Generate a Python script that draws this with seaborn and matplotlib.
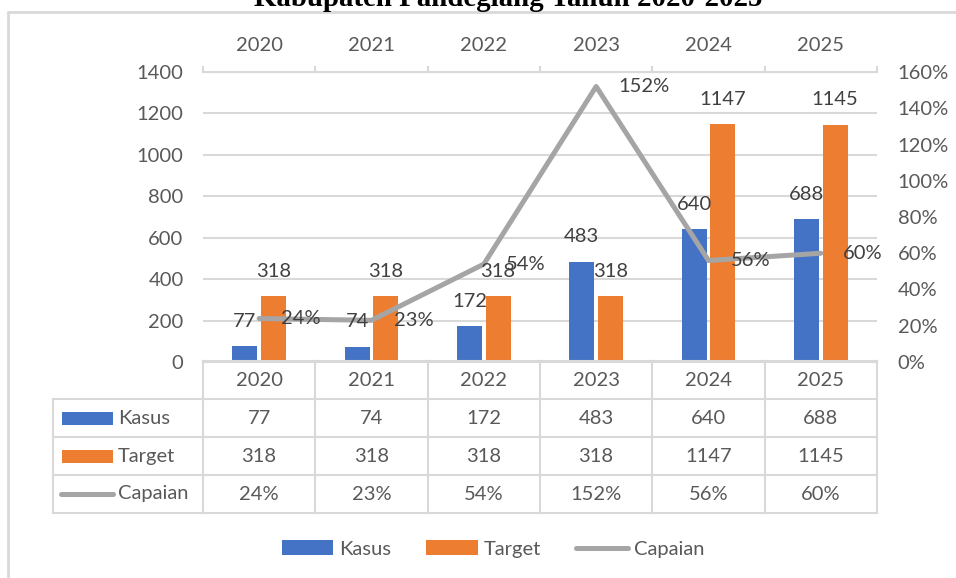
import numpy as np
import pandas as pd
import matplotlib
matplotlib.use("Agg")
import matplotlib.pyplot as plt
from matplotlib.lines import Line2D
from matplotlib.patches import Patch, Rectangle
from matplotlib.ticker import FuncFormatter
import seaborn as sns

# ---- data -------------------------------------------------------------
years = ["2020", "2021", "2022", "2023", "2024", "2025"]
kasus = [77, 74, 172, 483, 640, 688]
target = [318, 318, 318, 318, 1147, 1145]
capaian = [24, 23, 54, 152, 56, 60]          # percent
series_names = ["Kasus", "Target", "Capaian"]
title = "Kabupaten Pandeglang Tahun 2020-2025"

# ---- style --------------------------------------------------------------
BLUE, ORANGE, GRAY = "#4472C4", "#ED7D31", "#A5A5A5"
TXT, LBL, GRID = "#595959", "#404040", "#D9D9D9"
FS = 14.5

sns.set_style("white")
plt.rcParams["font.family"] = ["Lato", "DejaVu Sans"]

W, H = 956, 578
fig = plt.figure(figsize=(W / 100, H / 100), dpi=100)


def rect(l, t, r, b):
    return [l / W, 1 - b / H, (r - l) / W, (b - t) / H]


# ---- main plot area -----------------------------------------------------
ax = fig.add_axes(rect(203, 72, 877, 362))
df = pd.DataFrame({
    "Tahun": years * 2,
    "Nilai": kasus + target,
    "Seri": [series_names[0]] * len(years) + [series_names[1]] * len(years),
})
sns.barplot(data=df, x="Tahun", y="Nilai", hue="Seri", order=years,
            palette=[BLUE, ORANGE], saturation=1, width=0.51, gap=0.12,
            linewidth=0, legend=False, ax=ax)
ax.set_xlim(-0.5, len(years) - 0.5)
ax.set_ylim(0, 1400)
ax.set_yticks(np.arange(0, 1401, 200))
ax.set_xlabel("")
ax.set_ylabel("")
ax.set_xticks([])
ax.grid(axis="y", color=GRID, lw=1.5)
ax.set_axisbelow(True)
for s in ["left", "right", "top"]:
    ax.spines[s].set_visible(False)
ax.spines["bottom"].set_color(GRID)
ax.spines["bottom"].set_linewidth(1.5)
ax.tick_params(axis="y", length=0, pad=14, labelsize=FS, labelcolor=TXT)

# secondary y axis for the achievement line
ax2 = ax.twinx()
sns.lineplot(x=np.arange(len(years)), y=capaian, color=GRAY, lw=3.6,
             ax=ax2, solid_joinstyle="round", solid_capstyle="round")
ax2.set_xlim(-0.5, len(years) - 0.5)
ax2.set_ylim(0, 160)
ax2.set_yticks(np.arange(0, 161, 20))
ax2.yaxis.set_major_formatter(FuncFormatter(lambda v, p: f"{v:.0f}%"))
ax2.tick_params(axis="y", length=0, pad=15, labelsize=FS, labelcolor=TXT)
for s in ax2.spines.values():
    s.set_visible(False)

# top category axis
top = ax.secondary_xaxis("top")
top.set_xticks(np.arange(len(years)), labels=years)
top.set_xticks(np.arange(len(years) + 1) - 0.5, minor=True)
top.tick_params(axis="x", which="major", length=0, pad=13,
                labelsize=FS, labelcolor=TXT)
top.tick_params(axis="x", which="minor", length=4.5, width=1.5,
                color=GRID, direction="out")
top.spines["top"].set_color(GRID)
top.spines["top"].set_linewidth(1.5)

# data labels for bars (drawn on the top-most axes)
for cont in ax.containers:
    for bar, val in zip(cont, cont.datavalues):
        ax2.annotate(f"{val:.0f}",
                     (bar.get_x() + bar.get_width() / 2, bar.get_height()),
                     xycoords=ax.transData, xytext=(0, 18),
                     textcoords="offset points", ha="center", va="center",
                     fontsize=FS, color=LBL)
# data labels for the line
for i, v in enumerate(capaian):
    ax2.annotate(f"{v}%", (i, v), xytext=(16, 0), textcoords="offset points",
                 ha="left", va="center", fontsize=FS, color=LBL)

# ---- data table ---------------------------------------------------------
ppu = (877 - 203) / len(years)          # pixels per category
xl = -0.5 - (203 - 53) / ppu            # left edge of the header column
xr = len(years) - 0.5
tax = fig.add_axes(rect(53, 361, 877, 513))
tax.set_xlim(xl, xr)
tax.set_ylim(4, 0)
tax.axis("off")

lkw = dict(color=GRID, lw=1.5, clip_on=False, solid_capstyle="projecting")
tax.plot([-0.5, xr], [0, 0], **lkw)
for r in range(1, 5):
    tax.plot([xl, xr], [r, r], **lkw)
for c in range(len(years) + 1):
    tax.plot([c - 0.5, c - 0.5], [0, 4], **lkw)
tax.plot([xl, xl], [1, 4], **lkw)

for i, y in enumerate(years):
    tax.text(i, 0.5, y, ha="center", va="center", fontsize=FS, color=TXT)
rows = [
    [f"{v}" for v in kasus],
    [f"{v}" for v in target],
    [f"{v}%" for v in capaian],
]
for r, vals in enumerate(rows, start=1):
    for i, t in enumerate(vals):
        tax.text(i, r + 0.5, t, ha="center", va="center", fontsize=FS, color=TXT)

row_h = 13 / 38
for r, col in zip([1, 2], [BLUE, ORANGE]):
    tax.add_patch(Rectangle((xl + 9 / ppu, r + 0.5 - row_h / 2), 51 / ppu, row_h,
                            facecolor=col, edgecolor="none", clip_on=False))
tax.plot([xl + 8 / ppu, xl + 60 / ppu], [3.5, 3.5], color=GRAY, lw=3.6,
         solid_capstyle="round", clip_on=False)
for r, name in enumerate(series_names, start=1):
    tax.text(xl + 65 / ppu, r + 0.5, name, ha="left", va="center",
             fontsize=FS, color=TXT)

# ---- legend -------------------------------------------------------------
handles = [Patch(facecolor=BLUE, edgecolor="none"),
           Patch(facecolor=ORANGE, edgecolor="none"),
           Line2D([], [], color=GRAY, lw=3.6, solid_capstyle="round")]
fig.legend(handles, series_names, loc="center", bbox_to_anchor=(493 / W, 1 - 549 / H),
           ncol=3, frameon=False, fontsize=FS, labelcolor=TXT,
           handlelength=2.55, handletextpad=0.3, columnspacing=1.75)

# ---- frame and title ----------------------------------------------------
fig.add_artist(Line2D([8 / W, 1], [1 - 12 / H, 1 - 12 / H], color=GRID, lw=2))
fig.add_artist(Line2D([8 / W, 8 / W], [0, 1 - 12 / H], color=GRID, lw=2))
fig.text(508 / W, 1 - 6 / H, title, ha="center", va="baseline",
         fontsize=20.8, fontweight="bold", family=["Liberation Serif", "DejaVu Serif"],
         color="black")

fig.savefig("out.png", dpi=100)
